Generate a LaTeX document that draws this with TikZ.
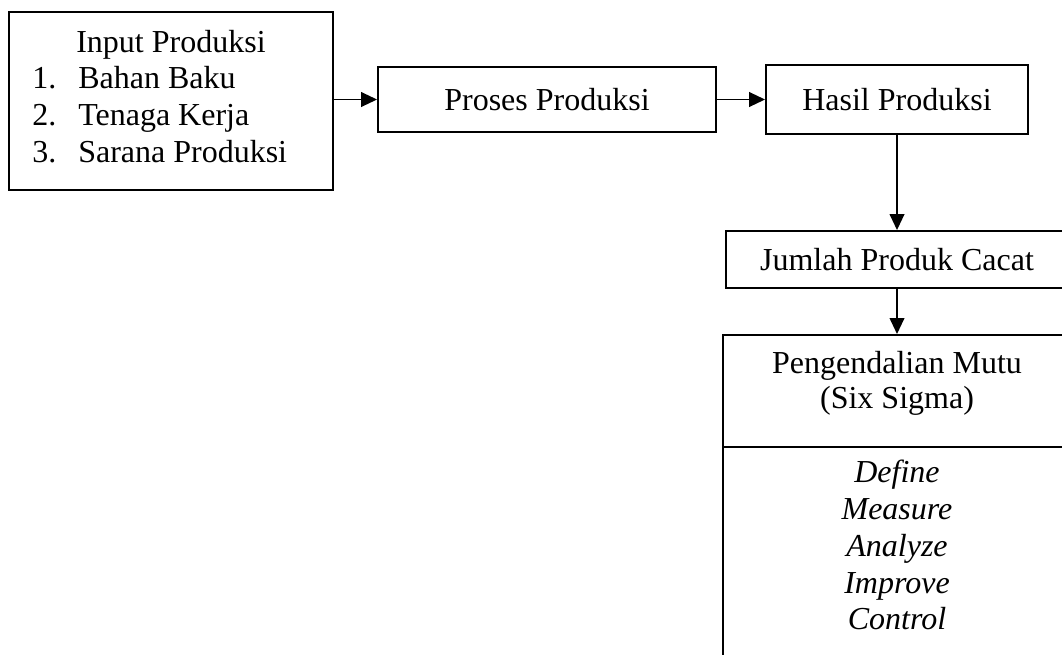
\documentclass[tikz,border=0pt]{standalone}
\usepackage{fontspec}
\setmainfont{Liberation Serif}
\usetikzlibrary{arrows.meta}
\begin{document}
\begin{tikzpicture}[x=0.75pt, y=-0.75pt,
    kotak/.style={draw, line width=1.4pt, inner sep=0pt, font=\fontsize{24}{27.5}\selectfont},
    teks/.style={inner sep=0pt, font=\fontsize{24}{27.5}\selectfont},
    panah/.style={line width=1.4pt, -{Triangle[length=12pt, width=11pt]}}]
        % Batas gambar
        \clip (0, 0) rectangle (1062, 654);

        % Input produksi
        \node[kotak, minimum width=243pt, minimum height=133.5pt] (input) at (171, 101) {};
        \node[teks, anchor=base] (judul) at (171, 52) {Input Produksi};
        \node[teks, anchor=base west] (no1) at (32, 88) {1.};
        \node[teks, anchor=base west] (bahan) at (78, 88) {Bahan Baku};
        \node[teks, anchor=base west] (no2) at (32, 125) {2.};
        \node[teks, anchor=base west] (tenaga) at (78, 125) {Tenaga Kerja};
        \node[teks, anchor=base west] (no3) at (32, 162) {3.};
        \node[teks, anchor=base west] (sarana) at (78, 162) {Sarana Produksi};

        % Proses dan hasil
        \node[kotak, minimum width=253.5pt, minimum height=48.75pt] (proses) at (547, 99.5) {Proses Produksi};
        \node[kotak, minimum width=196.5pt, minimum height=51.75pt] (hasil) at (897, 99.5) {Hasil Produksi};

        % Produk cacat
        \node[kotak, minimum width=256.5pt, minimum height=42.75pt] (cacat) at (897, 259.5) {Jumlah Produk Cacat};

        % Pengendalian mutu
        \node[kotak, minimum width=261pt, minimum height=267pt, anchor=north] (mutu) at (897, 334) {};
        \node[teks, anchor=base] (mutujudul) at (897, 373) {Pengendalian Mutu};
        \node[teks, anchor=base] (sixsigma) at (897, 408) {(Six Sigma)};
        \coordinate (batas) at (0, 447);
        \draw[line width=1.4pt] (mutu.west |- batas) -- (mutu.east |- batas);
        \foreach \kata [count=\i] in {Define, Measure, Analyze, Improve, Control}
            \node[teks, anchor=base] (tahap\i) at (897, 446 + 36.75*\i) {\textit{\kata}};

        % Panah
        \draw[panah] (input.east |- proses.west) -- (proses.west);
        \draw[panah] (proses.east) -- (hasil.west);
        \draw[panah] (hasil.south) -- (cacat.north);
        \draw[panah] (cacat.south) -- (mutu.north);
    \end{tikzpicture}
\end{document}
